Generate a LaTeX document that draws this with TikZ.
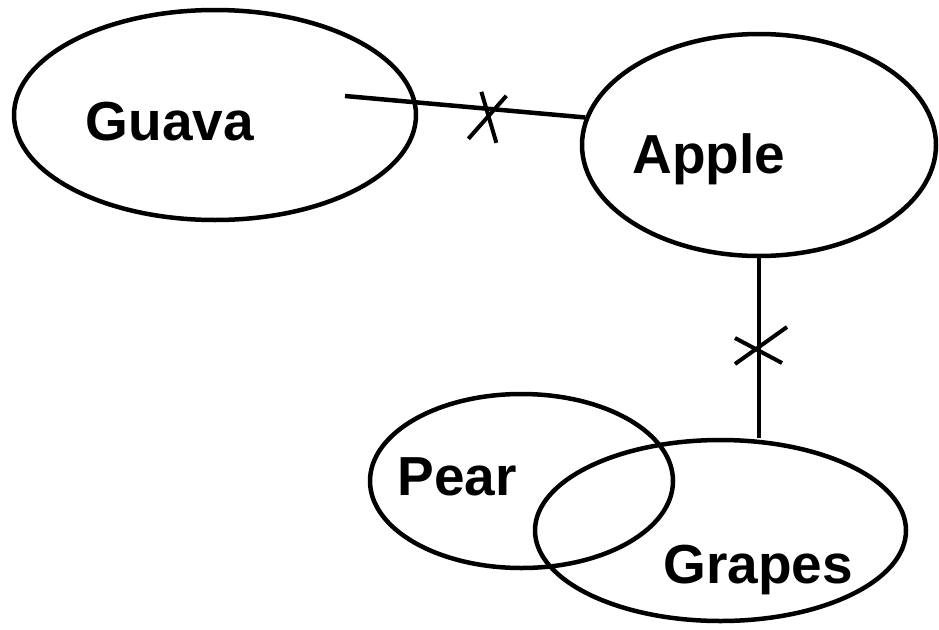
\documentclass[tikz,border=0pt]{standalone}
\usepackage{fontspec}
\setmainfont{Liberation Sans}
\usetikzlibrary{shapes.geometric}
\begin{document}
\begin{tikzpicture}[x=1pt,y=-1pt,
  blob/.style={ellipse,draw=black,line width=4.5pt,inner sep=0pt},
  lbl/.style={anchor=base,inner sep=0pt,font=\fontsize{55}{66}\selectfont\bfseries},
  link/.style={draw=black,line width=4.5pt},
  tick/.style={draw=black,line width=4pt}]
\useasboundingbox (0,0) rectangle (939,629);

% ellipses
\node[blob,minimum width=402pt,minimum height=210pt] (guava)  at (215,115) {};
\node[blob,minimum width=354pt,minimum height=222pt] (apple)  at (759,145) {};
\node[blob,minimum width=303pt,minimum height=174pt] (pear)   at (521.5,481) {};
\node[blob,minimum width=371pt,minimum height=181pt] (grapes) at (720.5,530.5) {};

% labels
\node[lbl] (tguava)  at (170,140) {Guava};
\node[lbl] (tapple)  at (709,173) {Apple};
\node[lbl] (tpear)   at (457,495) {Pear};
\node[lbl] (tgrapes) at (758,583) {Grapes};

% connectors with crossing marks
\coordinate (gstart) at (345,96);
\path[link] (gstart) -- coordinate[pos=0.597] (m1) (apple.171);
\path[tick] (m1) ++(-20,30) -- ++(38,-43);
\path[tick] (m1) ++(-7,-17) -- ++(15,51);

\path[link] (apple.south) -- coordinate[pos=0.5] (m2) (apple.south |- grapes.north);
\path[tick] (m2) ++(-24,16) -- ++(52,-37);
\path[tick] (m2) ++(-24,-10) -- ++(47,25);
\end{tikzpicture}
\end{document}
